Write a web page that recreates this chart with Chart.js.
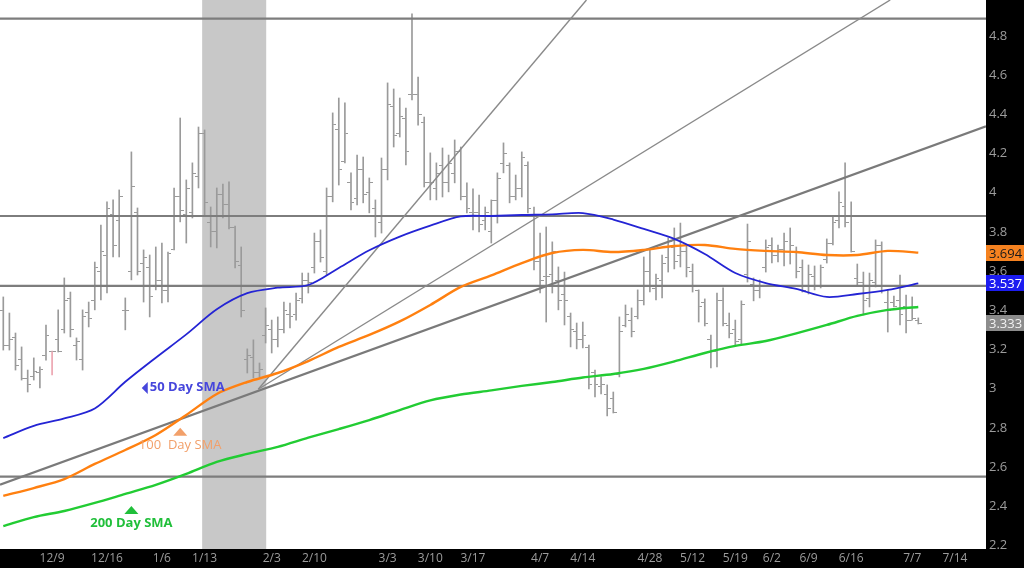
<!DOCTYPE html>
<html>
<head>
<meta charset="utf-8">
<title>Natural gas - daily bars</title>
<script src="https://cdn.jsdelivr.net/npm/chart.js@4/dist/chart.umd.min.js"></script>
<style>
    html, body { margin: 0; padding: 0; background: #000; }
    #wrap { width: 1024px; height: 568px; }
</style>
</head>
<body>
<div id="wrap"><canvas id="chart"></canvas></div>
<script>
/* ============================================
   Daily OHLC bars + moving averages
   ============================================ */

// x axis works in bar numbers (0 = first bar on the chart)
const xMin = -0.54;
const xMax = 161.1;
const tickBars = [8, 17, 26, 33, 44, 51, 63, 70, 77, 88, 95, 106, 113, 120, 126, 132, 139, 149, 156];
const tickLabels = ['12/9', '12/16', '1/6', '1/13', '2/3', '2/10', '3/3', '3/10', '3/17', '4/7',
    '4/14', '4/28', '5/12', '5/19', '6/2', '6/9', '6/16', '7/7', '7/14'];
const yMin = 2.182;
const yMax = 4.983;
const yTicks = [2.2, 2.4, 2.6, 2.8, 3, 3.2, 3.4, 3.6, 3.8, 4, 4.2, 4.4, 4.6, 4.8];

// price bars
const high = [3.468,3.386,3.284,3.213,3.095,3.157,3.111,3.325,3.192,3.402,
    3.565,3.493,3.259,3.402,3.442,3.646,3.835,3.953,3.963,4.014,
    3.463,4.208,3.922,3.708,3.682,3.723,3.743,3.697,4.024,4.381,
    4.065,4.152,4.335,4.320,3.927,4.024,4.044,4.055,3.830,3.723,
    3.203,3.249,3.131,3.412,3.350,3.366,3.442,3.437,3.488,3.590,
    3.590,3.794,3.810,4.024,4.407,4.483,4.458,4.101,4.192,4.182,
    4.075,3.963,4.177,4.560,4.529,4.483,4.432,4.912,4.590,4.386,
    4.203,4.152,4.228,4.192,4.269,4.233,4.050,4.019,3.988,3.927,
    3.963,4.101,4.254,4.152,4.090,4.208,4.157,3.927,3.794,3.825,
    3.749,3.621,3.595,3.386,3.335,3.340,3.223,3.095,3.060,3.019,
    2.983,3.366,3.427,3.412,3.504,3.672,3.708,3.585,3.682,3.769,
    3.820,3.845,3.728,3.636,3.504,3.458,3.274,3.488,3.514,3.386,
    3.350,3.448,3.840,3.565,3.555,3.759,3.769,3.733,3.794,3.820,
    3.723,3.657,3.631,3.626,3.631,3.764,3.876,4.004,4.152,3.953,
    3.636,3.595,3.590,3.759,3.749,3.504,3.473,3.580,3.478,3.468,
    3.361];
const low = [3.197,3.197,3.095,3.044,2.983,3.044,3.004,3.146,3.070,3.187,
    3.284,3.264,3.146,3.095,3.315,3.402,3.453,3.488,3.672,3.672,
    3.300,3.555,3.580,3.442,3.366,3.504,3.437,3.442,3.708,3.851,
    3.743,3.871,4.024,3.886,3.723,3.718,3.871,3.815,3.616,3.366,
    3.080,3.055,3.060,3.233,3.182,3.213,3.284,3.310,3.350,3.437,
    3.488,3.590,3.646,3.580,3.953,4.039,4.152,3.912,3.937,3.948,
    3.897,3.774,3.794,4.065,4.233,4.284,4.141,4.473,4.345,4.029,
    3.963,3.963,3.978,4.004,4.050,3.963,3.897,3.810,3.800,3.810,
    3.743,3.845,4.101,3.948,3.963,3.978,3.897,3.606,3.488,3.340,
    3.488,3.402,3.325,3.213,3.203,3.208,2.999,2.958,2.973,2.861,
    2.876,3.060,3.315,3.264,3.356,3.427,3.493,3.453,3.463,3.595,
    3.611,3.621,3.570,3.493,3.340,3.320,3.106,3.111,3.320,3.259,
    3.218,3.228,3.544,3.448,3.463,3.595,3.641,3.647,3.626,3.636,
    3.565,3.493,3.483,3.504,3.514,3.641,3.733,3.820,3.825,3.697,
    3.524,3.376,3.417,3.519,3.488,3.289,3.417,3.325,3.284,3.350,
    3.330];
const open = [3.40,3.22,3.26,3.15,3.05,3.06,3.08,3.17,3.19,3.25,
    3.30,3.46,3.22,3.15,3.39,3.45,3.60,3.68,3.89,3.86,
    3.40,3.60,3.90,3.64,3.62,3.52,3.55,3.50,3.71,3.98,
    3.89,3.90,4.08,4.30,3.85,3.80,3.99,3.94,3.82,3.63,
    3.15,3.16,3.08,3.27,3.30,3.25,3.30,3.38,3.38,3.46,
    3.55,3.62,3.75,3.60,3.98,4.32,4.16,4.05,3.97,4.12,
    4.00,3.92,3.85,4.12,4.44,4.30,4.38,4.50,4.50,4.36,
    4.05,4.02,4.14,4.05,4.10,4.21,3.98,3.90,3.90,3.86,
    3.80,3.96,4.15,4.14,3.98,4.02,4.14,3.88,3.65,3.57,
    3.58,3.55,3.48,3.37,3.29,3.25,3.21,3.08,3.01,2.97,
    2.95,3.07,3.32,3.35,3.37,3.45,3.60,3.51,3.55,3.67,
    3.72,3.68,3.70,3.60,3.50,3.44,3.25,3.19,3.45,3.32,
    3.30,3.25,3.58,3.53,3.50,3.62,3.73,3.68,3.71,3.70,
    3.70,3.62,3.52,3.57,3.52,3.66,3.74,3.86,3.93,3.88,
    3.56,3.54,3.46,3.54,3.73,3.44,3.44,3.45,3.42,3.35,
    3.35];
const close = [3.22,3.25,3.12,3.05,3.02,3.09,3.10,3.27,3.19,3.19,
    3.45,3.30,3.24,3.37,3.36,3.62,3.70,3.92,3.73,3.98,
    3.40,4.03,3.60,3.67,3.47,3.55,3.50,3.69,3.98,3.91,
    4.02,4.10,4.30,3.95,3.80,3.99,3.94,3.82,3.65,3.40,
    3.17,3.08,3.10,3.32,3.25,3.30,3.40,3.37,3.45,3.55,
    3.54,3.75,3.67,3.98,4.35,4.12,4.30,3.95,4.12,3.99,
    4.05,3.88,4.12,4.45,4.29,4.39,4.21,4.50,4.40,4.05,
    4.05,4.10,4.05,4.15,4.21,3.98,3.92,3.90,3.84,3.90,
    3.96,4.07,4.20,3.98,4.02,4.18,3.92,3.65,3.55,3.57,
    3.70,3.45,3.45,3.30,3.25,3.27,3.02,3.02,3.02,2.90,
    2.88,3.29,3.38,3.29,3.45,3.60,3.52,3.56,3.64,3.75,
    3.65,3.70,3.62,3.52,3.42,3.33,3.19,3.45,3.33,3.28,
    3.24,3.43,3.75,3.50,3.52,3.72,3.68,3.71,3.75,3.73,
    3.60,3.50,3.58,3.52,3.62,3.74,3.85,3.95,3.85,3.70,
    3.54,3.45,3.55,3.73,3.52,3.40,3.42,3.38,3.35,3.36,
    3.333];
const oddBar = 8; // the one pink bar in December

// moving averages, read every 5 bars
const maIdx = [0,5,10,15,20,25,30,35,40,45,50,55,60,65,70,75,80,85,90,95,100,105,110,115,120,125,130,135,140,145,150];
const sma50 = [2.748,2.810,2.848,2.899,3.035,3.158,3.277,3.405,3.487,3.515,3.529,3.616,3.706,3.776,3.832,3.879,
    3.881,3.886,3.889,3.896,3.863,3.815,3.764,3.687,3.590,3.539,3.509,3.468,3.483,3.504,3.537];
const sma100 = [2.453,2.493,2.539,2.616,2.687,2.764,2.866,2.973,3.034,3.080,3.141,3.213,3.274,3.343,3.427,3.519,
    3.578,3.641,3.692,3.708,3.697,3.708,3.728,3.733,3.713,3.703,3.697,3.682,3.682,3.703,3.694];
const sma200 = [2.299,2.345,2.376,2.417,2.463,2.509,2.565,2.626,2.667,2.703,2.750,2.794,2.840,2.891,2.940,2.970,
    2.991,3.014,3.034,3.057,3.075,3.101,3.139,3.182,3.218,3.243,3.282,3.325,3.371,3.402,3.417];

// drawn levels
const levels = [4.888, 3.881, 3.524, 2.551];
const steepLine = [[41.8, 2.997], [95.6, 4.983]];
const midLine = [[41.8, 2.997], [145.4, 4.983]];
const longLine = [[-0.54, 2.510], [161.1, 4.339]];
const shadeFrom = 32.6;
const shadeTo = 43.1;

const FONT = "'Open Sans', 'Noto Sans', sans-serif";
const BAR_GRAY = '#9a9a9a';

// little canvases used as point styles for the open / close ticks
function makeTick(side) {
    const c = document.createElement('canvas');
    c.width = 7;
    c.height = 1;
    const g = c.getContext('2d');
    g.fillStyle = BAR_GRAY;
    g.fillRect(side === 'left' ? 0 : 4, 0, 3, 1);
    return c;
}

function pts(xs, ys) {
    return xs.map((x, i) => ({ x, y: ys[i] }));
}

function segment(p) {
    return p.map(([x, y]) => ({ x, y }));
}

// no label half-widths around the plot: it runs edge to edge
function noPad(s) {
    s.paddingLeft = 0;
    s.paddingRight = 0;
    s.paddingTop = 0;
    s.paddingBottom = 0;
}

const smaNotes = [
    { text: '50 Day SMA', at: 22.7, value: 3.004, color: '#4646dc', bold: true, arrow: 'left' },
    { text: '100  Day SMA', at: 29.0, value: 2.80, color: '#f2a06a', bold: false, arrow: 'up' },
    { text: '200 Day SMA', at: 21.0, value: 2.402, color: '#20bf3a', bold: true, arrow: 'up' }
];

const lastTags = [
    { value: sma100[sma100.length - 1], bg: '#f58220', fg: '#1a1a1a' },
    { value: sma50[sma50.length - 1], bg: '#1c1cf0', fg: '#ffffff' },
    { value: close[close.length - 1], bg: '#8c8c8c', fg: '#f2f2f2' }
];

const paperPlugin = {
    id: 'paper',
    beforeDraw(chart) {
        const { ctx, chartArea: a } = chart;
        ctx.save();
        ctx.fillStyle = '#000';
        ctx.fillRect(0, 0, chart.width, chart.height);
        ctx.fillStyle = '#fff';
        ctx.fillRect(a.left, a.top, a.right - a.left, a.bottom - a.top);
        ctx.restore();
    },
    beforeDatasetsDraw(chart) {
        const { ctx, chartArea: a, scales: { x } } = chart;
        const x0 = x.getPixelForValue(shadeFrom);
        const x1 = x.getPixelForValue(shadeTo);
        ctx.save();
        ctx.fillStyle = '#c8c8c8';
        ctx.fillRect(x0, a.top, x1 - x0, a.bottom - a.top);
        ctx.restore();
    },
    afterDatasetsDraw(chart) {
        const { ctx, scales: { x, y } } = chart;
        ctx.save();
        smaNotes.forEach(n => {
            const px = x.getPixelForValue(n.at);
            const py = y.getPixelForValue(n.value);
            ctx.fillStyle = n.color;
            ctx.font = (n.bold ? 'bold ' : '') + '13px ' + FONT;
            ctx.beginPath();
            if (n.arrow === 'left') {
                ctx.moveTo(px, py);
                ctx.lineTo(px + 6, py - 6);
                ctx.lineTo(px + 6, py + 6);
                ctx.closePath();
                ctx.fill();
                ctx.textAlign = 'left';
                ctx.textBaseline = 'middle';
                ctx.fillText(n.text, px + 8, py - 1);
            } else {
                ctx.moveTo(px, py);
                ctx.lineTo(px + 7, py + 8);
                ctx.lineTo(px - 7, py + 8);
                ctx.closePath();
                ctx.fill();
                ctx.textAlign = 'center';
                ctx.textBaseline = 'middle';
                ctx.fillText(n.text, px, py + 17);
            }
        });
        ctx.restore();
    },
    afterDraw(chart) {
        const { ctx, scales: { y } } = chart;
        ctx.save();
        ctx.font = '13px ' + FONT;
        ctx.textAlign = 'left';
        ctx.textBaseline = 'middle';
        lastTags.forEach(t => {
            const py = Math.round(y.getPixelForValue(t.value));
            ctx.fillStyle = t.bg;
            ctx.fillRect(y.left, py - 8, chart.width - y.left, 16);
            ctx.fillStyle = t.fg;
            ctx.fillText(t.value.toFixed(3), y.left + 3, py + 1);
        });
        ctx.restore();
    }
};

function renderChart() {
    const ctx = document.getElementById('chart').getContext('2d');
    const lineBase = { type: 'line', pointRadius: 0, fill: false };

    const datasets = [
        {
            type: 'bar',
            data: high.map((h, i) => ({ x: i, y: [low[i], h] })),
            backgroundColor: c => c.dataIndex === oddBar ? '#eca4b0' : BAR_GRAY,
            barThickness: 1,
            borderWidth: 0,
            grouped: false,
            order: 10
        },
        {
            type: 'line', showLine: false,
            data: open.map((v, i) => ({ x: i, y: v })),
            pointStyle: makeTick('left'), pointRadius: 3, order: 9
        },
        {
            type: 'line', showLine: false,
            data: close.map((v, i) => ({ x: i, y: v })),
            pointStyle: makeTick('right'), pointRadius: 3, order: 9
        }
    ];

    levels.forEach(v => {
        datasets.push({ ...lineBase, data: [{ x: xMin, y: v }, { x: xMax, y: v }],
            borderColor: '#7d7d7d', borderWidth: 2.2, order: 6 });
    });

    datasets.push({ ...lineBase, data: segment(steepLine), borderColor: '#8a8a8a', borderWidth: 1.4, order: 5 });
    datasets.push({ ...lineBase, data: segment(midLine), borderColor: '#8a8a8a', borderWidth: 1.4, order: 5 });
    datasets.push({ ...lineBase, data: segment(longLine), borderColor: '#7a7a7a', borderWidth: 2.2, order: 5 });

    datasets.push({ ...lineBase, data: pts(maIdx, sma200), borderColor: '#22cc33', borderWidth: 2.4, tension: 0.3, order: 3 });
    datasets.push({ ...lineBase, data: pts(maIdx, sma100), borderColor: '#ff8010', borderWidth: 2.4, tension: 0.3, order: 2 });
    datasets.push({ ...lineBase, data: pts(maIdx, sma50), borderColor: '#2424d4', borderWidth: 1.8, tension: 0.3, order: 1 });

    new Chart(ctx, {
        type: 'line',
        data: { datasets },
        options: {
            responsive: true,
            maintainAspectRatio: false,
            animation: false,
            events: [],
            layout: { padding: 0, autoPadding: false },
            plugins: {
                legend: { display: false },
                tooltip: { enabled: false }
            },
            scales: {
                x: {
                    type: 'linear',
                    min: xMin,
                    max: xMax,
                    offset: false,
                    grid: { display: false, drawTicks: false },
                    border: { display: false },
                    afterBuildTicks: s => { s.ticks = tickBars.map(v => ({ value: v })); },
                    afterFit: s => { s.height = 19; noPad(s); },
                    ticks: {
                        color: '#9c9c9c',
                        font: { family: FONT, size: 12 },
                        padding: 2,
                        maxRotation: 0,
                        autoSkip: false,
                        callback: v => tickLabels[tickBars.indexOf(v)] ?? ''
                    }
                },
                y: {
                    type: 'linear',
                    position: 'right',
                    min: yMin,
                    max: yMax,
                    beginAtZero: false,
                    grid: { display: false, drawTicks: false },
                    border: { display: false },
                    afterBuildTicks: s => { s.ticks = yTicks.map(v => ({ value: v })); },
                    afterFit: s => { s.width = 38; noPad(s); },
                    ticks: {
                        color: '#9c9c9c',
                        font: { family: FONT, size: 13 },
                        padding: 3,
                        callback: v => String(+v.toFixed(1))
                    }
                }
            }
        },
        plugins: [paperPlugin]
    });
}

renderChart();
</script>
</body>
</html>
